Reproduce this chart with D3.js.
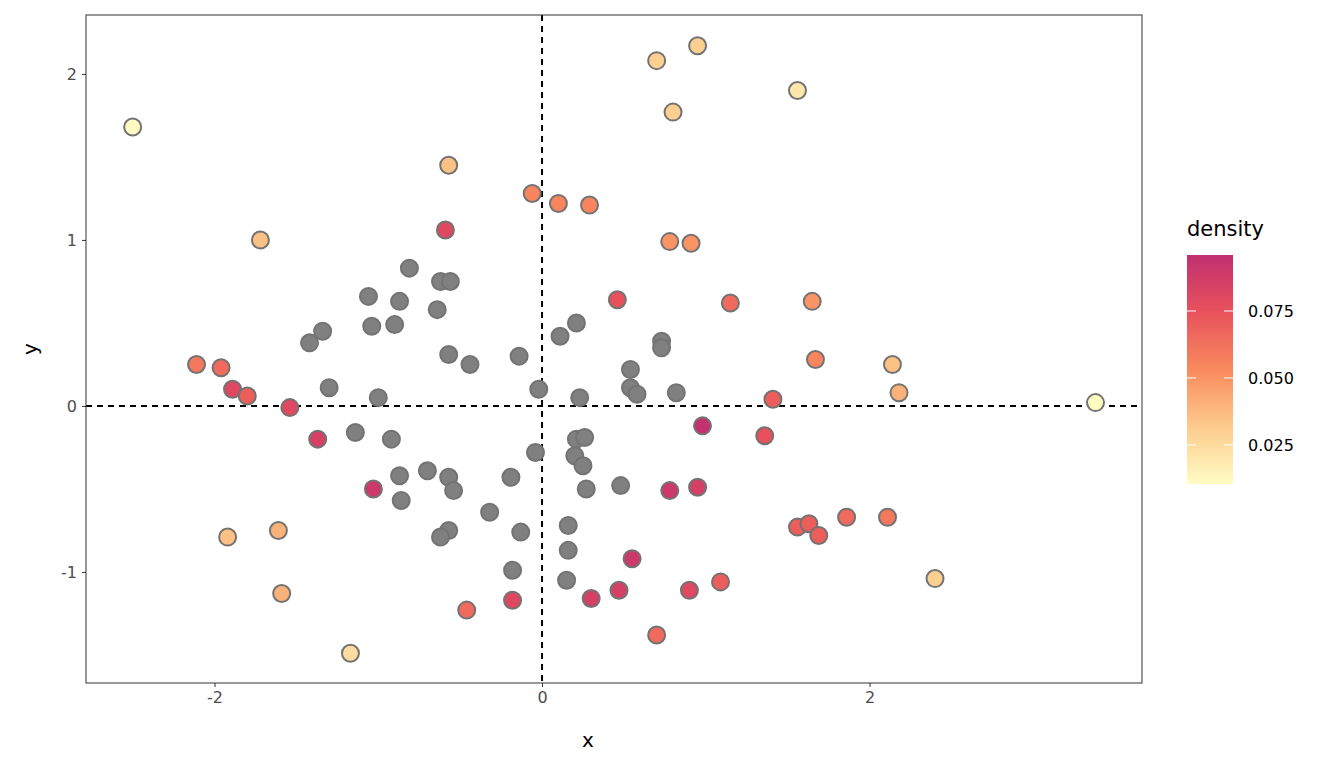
<!DOCTYPE html>
<meta charset="utf-8">
<style>
body { margin: 0; background: #fff; }
.axis text { font: 16px "DejaVu Sans", sans-serif; fill: #4d4d4d; }
.axis line { stroke: #333; }
.axis path { display: none; }
</style>
<body>
<div id="chart"></div>
<script src="https://d3js.org/d3.v7.min.js"></script>
<script>
// colored points: x, y, density
var colX = [-2.50,-1.72,-0.57,-0.59,-0.06,0.10,0.29,0.70,0.95,1.56,0.80,0.78,0.91,0.46,1.15,1.65,1.67,2.14,2.18,3.38,
  -2.11,-1.96,-1.89,-1.80,-1.54,-1.37,-1.03,-1.92,-1.61,-1.59,-1.17,-0.46,-0.18,0.30,0.47,0.55,0.70,0.90,1.09,0.78,
  0.95,0.98,1.36,1.41,1.56,1.63,1.69,1.86,2.11,2.40];
var colY = [1.68,1.00,1.45,1.06,1.28,1.22,1.21,2.08,2.17,1.90,1.77,0.99,0.98,0.64,0.62,0.63,0.28,0.25,0.08,0.02,
  0.25,0.23,0.10,0.06,-0.01,-0.20,-0.50,-0.79,-0.75,-1.13,-1.49,-1.23,-1.17,-1.16,-1.11,-0.92,-1.38,-1.11,-1.06,-0.51,
  -0.49,-0.12,-0.18,0.04,-0.73,-0.71,-0.78,-0.67,-0.67,-1.04];
var colD = [0.011,0.035,0.035,0.08,0.055,0.055,0.055,0.03,0.03,0.02,0.03,0.05,0.05,0.075,0.065,0.05,0.055,0.035,0.04,0.011,
  0.06,0.065,0.08,0.07,0.08,0.085,0.09,0.035,0.04,0.04,0.025,0.065,0.08,0.085,0.085,0.09,0.065,0.08,0.07,0.09,
  0.085,0.095,0.075,0.07,0.07,0.07,0.07,0.065,0.06,0.03];
// gray points (no density)
var grayX = [-1.06,-0.87,-1.04,-0.90,-0.81,-0.64,-0.62,-0.56,-1.42,-1.34,-1.30,-1.00,-0.57,-0.44,-0.14,0.11,0.21,-0.02,0.23,0.54,
  0.54,0.58,0.82,0.73,0.73,-1.14,-0.92,-0.87,-0.86,-0.70,-0.57,-0.54,-0.32,-0.19,-0.04,0.21,0.26,0.20,0.25,0.27,
  0.48,0.16,0.16,-0.13,-0.57,-0.62,-0.18,0.15];
var grayY = [0.66,0.63,0.48,0.49,0.83,0.58,0.75,0.75,0.38,0.45,0.11,0.05,0.31,0.25,0.30,0.42,0.50,0.10,0.05,0.22,
  0.11,0.07,0.08,0.39,0.35,-0.16,-0.20,-0.42,-0.57,-0.39,-0.43,-0.51,-0.64,-0.43,-0.28,-0.20,-0.19,-0.30,-0.36,-0.50,
  -0.48,-0.72,-0.87,-0.76,-0.75,-0.79,-0.99,-1.05];
var xTicks = [-2, 0, 2], yTicks = [-1, 0, 1, 2];
var legTicks = [0.025, 0.050, 0.075];
var dMin = 0.0104, dMax = 0.0959;

var svg = d3.select("#chart").append("svg").attr("width", 1344).attr("height", 768);
var x = d3.scaleLinear().domain([-2.785, 3.664]).range([86, 1142]);
var y = d3.scaleLinear().domain([-1.669, 2.355]).range([683, 15]);
var stops = ["#FFFDC5", "#FDCB8C", "#F98A5E", "#E8525C", "#C13070"];
var color = d3.scaleLinear().domain(d3.range(5).map(function(i) { return dMin + i * (dMax - dMin) / 4; })).range(stops);
var fmt = function(d) { return String(d); };

svg.append("g").attr("class", "axis").attr("transform", "translate(0,683)")
  .call(d3.axisBottom(x).tickValues(xTicks).tickSize(4).tickPadding(5).tickFormat(fmt));
svg.append("g").attr("class", "axis").attr("transform", "translate(86,0)")
  .call(d3.axisLeft(y).tickValues(yTicks).tickSize(4).tickPadding(5).tickFormat(fmt));

svg.append("line").attr("x1", x(0)).attr("x2", x(0)).attr("y1", 15).attr("y2", 683)
  .attr("stroke", "#000").attr("stroke-width", 2).attr("stroke-dasharray", "6,5");
svg.append("line").attr("x1", 86).attr("x2", 1142).attr("y1", y(0)).attr("y2", y(0))
  .attr("stroke", "#000").attr("stroke-width", 2).attr("stroke-dasharray", "6,5");

svg.selectAll(".gp").data(grayX).enter().append("circle")
  .attr("cx", function(d) { return x(d); })
  .attr("cy", function(d, i) { return y(grayY[i]); })
  .attr("r", 8.5).attr("fill", "#808080").attr("stroke", "#737373").attr("stroke-width", 2);
svg.selectAll(".cp").data(colX).enter().append("circle")
  .attr("cx", function(d) { return x(d); })
  .attr("cy", function(d, i) { return y(colY[i]); })
  .attr("r", 8.5).attr("fill", function(d, i) { return color(colD[i]); })
  .attr("stroke", "#737373").attr("stroke-width", 2);

svg.append("rect").attr("x", 86).attr("y", 15).attr("width", 1056).attr("height", 668)
  .attr("fill", "none").attr("stroke", "#333").attr("stroke-width", 1);

svg.append("text").attr("x", x(0.28)).attr("y", 747).attr("text-anchor", "middle")
  .style("font", "20px 'DejaVu Sans', sans-serif").text("x");
svg.append("text").attr("transform", "translate(37,349) rotate(-90)").attr("text-anchor", "middle")
  .style("font", "20px 'DejaVu Sans', sans-serif").text("y");

// legend
var ly = d3.scaleLinear().domain([dMin, dMax]).range([484, 255]);
var grad = svg.append("defs").append("linearGradient").attr("id", "g").attr("x1", 0).attr("y1", 1).attr("x2", 0).attr("y2", 0);
stops.forEach(function(c, i) { grad.append("stop").attr("offset", i / 4).attr("stop-color", c); });
svg.append("rect").attr("x", 1187).attr("y", 255).attr("width", 46).attr("height", 229).attr("fill", "url(#g)");
legTicks.forEach(function(t) {
  svg.append("line").attr("x1", 1187).attr("x2", 1196).attr("y1", ly(t)).attr("y2", ly(t)).attr("stroke", "#fff").attr("stroke-width", 1);
  svg.append("line").attr("x1", 1224).attr("x2", 1233).attr("y1", ly(t)).attr("y2", ly(t)).attr("stroke", "#fff").attr("stroke-width", 1);
  svg.append("text").attr("x", 1248).attr("y", ly(t) + 6).style("font", "16px 'DejaVu Sans', sans-serif").text(d3.format(".3f")(t));
});
svg.append("text").attr("x", 1187).attr("y", 236).style("font", "21px 'DejaVu Sans', sans-serif").text("density");
</script>
</body>
